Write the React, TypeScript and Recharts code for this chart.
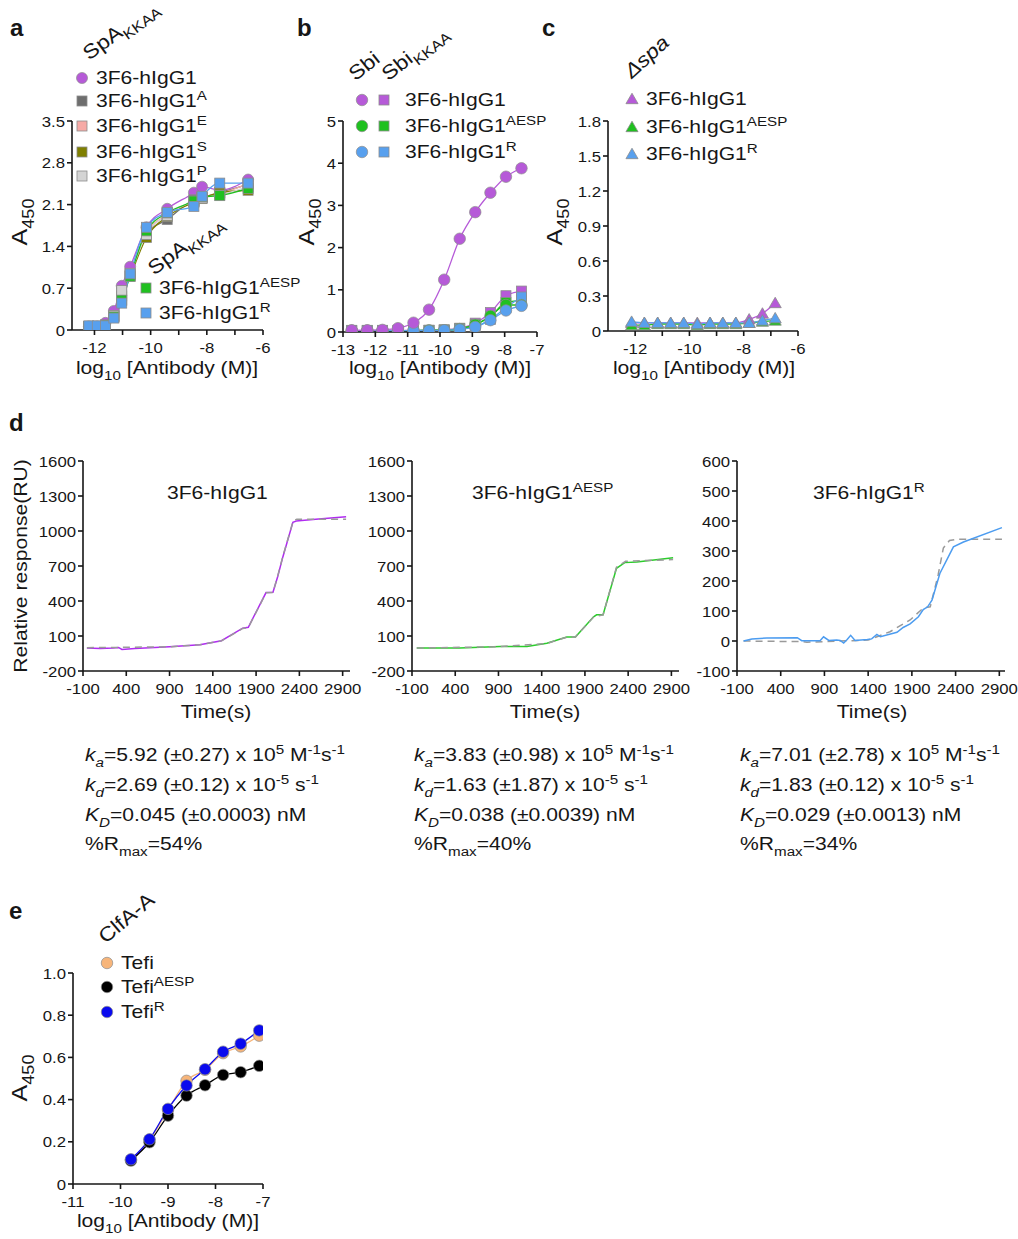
import React from 'react';
import { ComposedChart, Line, Scatter, XAxis, YAxis } from 'recharts';

const FONT = '"Liberation Sans", Arial, Helvetica, sans-serif';
const INK = '#161616';
const WIDE = 1.14; // the figure's lettering is wider than Arial
const TICK = 15.5;
const TICK_WIDE = 1.08;

const PURPLE = '#b65ad8';
const DKGREY = '#6e6e6e';
const PINK = '#f6aaa6';
const OLIVE = '#7f7f00';
const LTGREY = '#d4d4d4';
const GREEN = '#20c020';
const BLUE = '#58a0ee';
const ORANGE = '#f7b57a';
const BLACK = '#000000';
const DEEPBLUE = '#0a0aee';

// ---- a: SpA(KKAA) ELISA, log10 [Ab]
const aConc = [-12.2, -11.9, -11.61, -11.31, -11.03, -10.73, -10.15, -9.41, -8.46, -8.17, -7.54, -6.53];
const aIgG1 = [0.06, 0.06, 0.12, 0.32, 0.74, 1.06, 1.72, 2.03, 2.3, 2.4, 2.34, 2.52];
const aA = [0.06, 0.06, 0.08, 0.24, 0.62, 0.93, 1.62, 1.85, 2.18, 2.22, 2.3, 2.44];
const aE = [0.06, 0.06, 0.08, 0.22, 0.5, 0.92, 1.62, 1.93, 2.15, 2.22, 2.28, 2.45];
const aS = [0.06, 0.06, 0.08, 0.22, 0.57, 0.9, 1.55, 1.9, 2.14, 2.2, 2.3, 2.34];
const aP = [0.06, 0.06, 0.08, 0.24, 0.66, 0.95, 1.6, 1.92, 2.16, 2.21, 2.26, 2.4];
const aAESP = [0.06, 0.06, 0.08, 0.22, 0.5, 0.9, 1.66, 1.96, 2.16, 2.23, 2.25, 2.37];
const aR = [0.07, 0.07, 0.07, 0.2, 0.45, 0.94, 1.72, 1.97, 2.07, 2.24, 2.46, 2.46];

// ---- b: Sbi (circles) and Sbi(KKAA) (squares)
const bConc = [-12.73, -12.25, -11.78, -11.3, -10.82, -10.34, -9.87, -9.39, -8.91, -8.44, -7.96, -7.48];
const bSbiIgG1 = [0.04, 0.04, 0.05, 0.09, 0.22, 0.53, 1.24, 2.21, 2.84, 3.3, 3.68, 3.88];
const bSbiAESP = [0.03, 0.03, 0.03, 0.03, 0.03, 0.04, 0.04, 0.07, 0.17, 0.38, 0.64, 0.64];
const bSbiR = [0.03, 0.03, 0.03, 0.03, 0.03, 0.03, 0.04, 0.06, 0.12, 0.28, 0.51, 0.62];
const bKkaaIgG1 = [0.04, 0.04, 0.04, 0.04, 0.04, 0.04, 0.05, 0.09, 0.21, 0.46, 0.86, 0.97];
const bKkaaAESP = [0.03, 0.03, 0.03, 0.03, 0.03, 0.04, 0.05, 0.08, 0.18, 0.36, 0.7, 0.75];
const bKkaaR = [0.03, 0.03, 0.03, 0.03, 0.03, 0.04, 0.04, 0.07, 0.13, 0.3, 0.58, 0.83];

// ---- c: delta spa
const cConc = [-12.13, -11.66, -11.17, -10.69, -10.21, -9.71, -9.24, -8.77, -8.29, -7.8, -7.31, -6.84];
const cIgG1 = [0.07, 0.07, 0.07, 0.07, 0.07, 0.07, 0.07, 0.07, 0.07, 0.1, 0.15, 0.24];
const cAESP = [0.05, 0.05, 0.06, 0.06, 0.06, 0.05, 0.06, 0.06, 0.06, 0.07, 0.08, 0.09];
const cR = [0.08, 0.07, 0.07, 0.07, 0.07, 0.06, 0.07, 0.07, 0.07, 0.07, 0.09, 0.11];

// ---- d: SPR sensorgrams (time s, RU) and fits
const d1Time = [-55, 100, 250, 310, 350, 500, 900, 1250, 1500, 1745, 1810, 2015, 2095, 2150, 2210, 2325, 2365, 2590, 2940];
const d1Resp = [-3, -8, -2, 2, -15, -8, 8, 25, 60, 167, 175, 472, 475, 610, 780, 1075, 1085, 1100, 1122];
const d1FitTime = [-55, 300, 900, 1250, 1500, 1745, 1810, 2015, 2095, 2150, 2210, 2330, 2370, 2600, 2940];
const d1FitResp = [0, 2, 8, 25, 58, 165, 172, 470, 473, 615, 785, 1090, 1100, 1100, 1100];

const d2Time = [-45, 450, 920, 1230, 1460, 1690, 1790, 2000, 2035, 2110, 2265, 2360, 2500, 2920];
const d2Resp = [-3, -3, 11, 11, 38, 92, 91, 265, 282, 282, 680, 729, 734, 771];
const d2FitTime = [-45, 900, 1460, 1690, 1790, 2000, 2110, 2265, 2370, 2920];
const d2FitResp = [-3, 8, 36, 90, 92, 262, 282, 690, 740, 755];

const d3Time = [-25, 70, 240, 590, 640, 850, 890, 950, 1040, 1080, 1120, 1160, 1200, 1250, 1390, 1440, 1500, 1540, 1730, 1800, 1880, 1975, 2030, 2080, 2130, 2220, 2375, 2490, 2930];
const d3Resp = [0, 7, 10, 11, 1, 1, 14, 2, 3, 2, -7, 5, 19, 2, 5, 7, 22, 14, 29, 45, 57, 81, 105, 114, 136, 225, 314, 330, 378];
const d3FitTime = [-25, 630, 700, 1400, 1650, 1880, 2030, 2110, 2200, 2260, 2330, 2410, 2930];
const d3FitResp = [0, -2, -4, 3, 31, 70, 110, 114, 220, 310, 335, 339, 339];

const kaText = ['5.92 (±0.27)', '3.83 (±0.98)', '7.01 (±2.78)'];
const kdText = ['2.69 (±0.12)', '1.63 (±1.87)', '1.83 (±0.12)'];
const KDText = ['0.045 (±0.0003)', '0.038 (±0.0039)', '0.029 (±0.0013)'];
const rmaxText = ['54', '40', '34'];

// ---- e: ClfA-A
const eConc = [-9.78, -9.39, -9.0, -8.61, -8.22, -7.84, -7.47, -7.08];
const eTefi = [0.114, 0.209, 0.351, 0.489, 0.541, 0.62, 0.652, 0.703];
const eAESP = [0.111, 0.198, 0.324, 0.419, 0.468, 0.517, 0.53, 0.56];
const eR = [0.117, 0.212, 0.356, 0.467, 0.544, 0.627, 0.665, 0.728];

type Pt = { x: number; y: number };
const pts = (xs: number[], ys: number[]): Pt[] => xs.map((x, i) => ({ x, y: ys[i] }));

type Kind = 'circle' | 'square' | 'triangle';

function Mark({ kind, cx, cy, fill, size = 10, edge = '#8c8c8c' }: { kind: Kind; cx: number; cy: number; fill: string; size?: number; edge?: string }) {
  const h = size / 2;
  if (kind === 'circle') return <circle cx={cx} cy={cy} r={h} fill={fill} stroke={edge} strokeWidth={0.7} />;
  if (kind === 'square') return <rect x={cx - h} y={cy - h} width={size} height={size} fill={fill} stroke={edge} strokeWidth={0.8} />;
  return (
    <polygon
      points={`${cx},${cy - h * 1.05} ${cx - h * 1.1},${cy + h * 0.85} ${cx + h * 1.1},${cy + h * 0.85}`}
      fill={fill}
      stroke={edge}
      strokeWidth={0.8}
    />
  );
}

type Box = { l: number; t: number; r: number; b: number };
type Fmt = (v: number) => string;
const ML = 60, MT = 12, MR = 20, MB = 40;
const axisStyle = { stroke: INK, strokeWidth: 1.6 };

function Plot({ box, xDomain, xTicks, xFmt = String, yDomain, yTicks, yFmt = String, children }: {
  box: Box; xDomain: [number, number]; xTicks: number[]; xFmt?: Fmt;
  yDomain: [number, number]; yTicks: number[]; yFmt?: Fmt; children: React.ReactNode;
}) {
  const w = box.r - box.l + ML + MR;
  const h = box.b - box.t + MT + MB;
  return (
    <div style={{ position: 'absolute', left: box.l - ML, top: box.t - MT }}>
      <ComposedChart width={w} height={h} margin={{ top: MT, right: MR, bottom: 0, left: 0 }}>
        <XAxis
          type="number" dataKey="x" domain={xDomain} ticks={xTicks} interval={0} height={MB}
          allowDataOverflow axisLine={axisStyle} tickLine={axisStyle} tickSize={5}
          tick={(p: any) => (
            <text transform={`translate(${p.x},${p.y + 16}) scale(${TICK_WIDE},1)`} textAnchor="middle" fontSize={TICK} fontFamily={FONT} fill={INK}>
              {xFmt(p.payload.value)}
            </text>
          )}
        />
        <YAxis
          type="number" domain={yDomain} ticks={yTicks} interval={0} width={ML}
          allowDataOverflow axisLine={axisStyle} tickLine={axisStyle} tickSize={5}
          tick={(p: any) => (
            <text transform={`translate(${p.x},${p.y + 5.6}) scale(${TICK_WIDE},1)`} textAnchor="end" fontSize={TICK} fontFamily={FONT} fill={INK}>
              {yFmt(p.payload.value)}
            </text>
          )}
        />
        {children}
      </ComposedChart>
    </div>
  );
}

type Series = { key: string; xs: number[]; ys: number[]; color: string; kind: Kind; size?: number };

function curves(list: Series[], width = 1.3) {
  return list.map((s) => (
    <Line key={'l' + s.key} data={pts(s.xs, s.ys)} dataKey="y" type="monotone" stroke={s.color}
      strokeWidth={width} dot={false} activeDot={false} isAnimationActive={false} />
  ));
}

function marks(list: Series[]) {
  return list.map((s) => (
    <Scatter key={'m' + s.key} data={pts(s.xs, s.ys)} dataKey="y" isAnimationActive={false}
      shape={(p: any) => <Mark kind={s.kind} cx={p.cx} cy={p.cy} fill={s.color} size={s.size ?? 10} />} />
  ));
}

function T({ x, y, size = 18.5, anchor = 'start', rot = 0, wide = WIDE, bold = false, italic = false, children }: {
  x: number; y: number; size?: number; anchor?: 'start' | 'middle' | 'end'; rot?: number; wide?: number;
  bold?: boolean; italic?: boolean; children: React.ReactNode;
}) {
  const ox = anchor === 'middle' ? '50%' : anchor === 'end' ? '100%' : '0%';
  return (
    <div
      style={{
        position: 'absolute', left: x, top: y, whiteSpace: 'nowrap', fontFamily: FONT, fontSize: size,
        lineHeight: 1, color: INK, fontWeight: bold ? 700 : 400, fontStyle: italic ? 'italic' : 'normal',
        transformOrigin: `${ox} 50%`, transform: `translate(-${ox}, -50%) rotate(${rot}deg) scaleX(${wide})`,
      }}
    >
      {children}
    </div>
  );
}

const Sup = ({ children }: { children: React.ReactNode }) => (
  <span style={{ fontSize: '0.72em', position: 'relative', top: '-0.55em' }}>{children}</span>
);
const Sub = ({ children }: { children: React.ReactNode }) => (
  <span style={{ fontSize: '0.72em', position: 'relative', top: '0.42em' }}>{children}</span>
);
const I = ({ children }: { children: React.ReactNode }) => <i>{children}</i>;

function Glyph({ x, y, kind, fill, size = 10 }: { x: number; y: number; kind: Kind; fill: string; size?: number }) {
  return (
    <svg width={18} height={18} style={{ position: 'absolute', left: x - 9, top: y - 9 }}>
      <Mark kind={kind} cx={9} cy={9} fill={fill} size={size} />
    </svg>
  );
}

const oneDec: Fmt = (v) => (v === 0 ? '0' : v.toFixed(1));
const evenOnly: Fmt = (v) => (Math.round(v) % 2 === 0 ? String(v) : '');
const AbTitle = () => <>log<Sub>10</Sub> [Antibody (M)]</>;
const A450 = () => <>A<Sub>450</Sub></>;

const aSeries: Series[] = [
  { key: 'IgG1', xs: aConc, ys: aIgG1, color: PURPLE, kind: 'circle', size: 11 },
  { key: 'A', xs: aConc, ys: aA, color: DKGREY, kind: 'square' },
  { key: 'E', xs: aConc, ys: aE, color: PINK, kind: 'square' },
  { key: 'S', xs: aConc, ys: aS, color: OLIVE, kind: 'square' },
  { key: 'P', xs: aConc, ys: aP, color: LTGREY, kind: 'square' },
  { key: 'AESP', xs: aConc, ys: aAESP, color: GREEN, kind: 'square' },
  { key: 'R', xs: aConc, ys: aR, color: BLUE, kind: 'square' },
];

const bSeries: Series[] = [
  { key: 'kI', xs: bConc, ys: bKkaaIgG1, color: PURPLE, kind: 'square' },
  { key: 'kA', xs: bConc, ys: bKkaaAESP, color: GREEN, kind: 'square' },
  { key: 'kR', xs: bConc, ys: bKkaaR, color: BLUE, kind: 'square' },
  { key: 'sA', xs: bConc, ys: bSbiAESP, color: GREEN, kind: 'circle', size: 11.5 },
  { key: 'sR', xs: bConc, ys: bSbiR, color: BLUE, kind: 'circle', size: 11.5 },
  { key: 'sI', xs: bConc, ys: bSbiIgG1, color: PURPLE, kind: 'circle', size: 11.5 },
];

const cSeries: Series[] = [
  { key: 'I', xs: cConc, ys: cIgG1, color: PURPLE, kind: 'triangle', size: 11 },
  { key: 'A', xs: cConc, ys: cAESP, color: GREEN, kind: 'triangle', size: 11 },
  { key: 'R', xs: cConc, ys: cR, color: BLUE, kind: 'triangle', size: 11 },
];

const eSeries: Series[] = [
  { key: 'T', xs: eConc, ys: eTefi, color: ORANGE, kind: 'circle', size: 11.5 },
  { key: 'A', xs: eConc, ys: eAESP, color: BLACK, kind: 'circle', size: 11.5 },
  { key: 'R', xs: eConc, ys: eR, color: DEEPBLUE, kind: 'circle', size: 11.5 },
];

const timeTicks = [-100, 400, 900, 1400, 1900, 2400, 2900];

function trace(key: string, xs: number[], ys: number[], color: string, dashed = false) {
  return (
    <Line key={key} data={pts(xs, ys)} dataKey="y" type="linear" stroke={color} strokeWidth={1.5}
      strokeDasharray={dashed ? '7 5' : undefined} dot={false} activeDot={false} isAnimationActive={false} />
  );
}

export default function App() {
  const kinCols = [85, 414, 740];
  return (
    <div style={{ position: 'absolute', left: 0, top: 0, width: 1018, height: 1239, background: '#fff', fontFamily: FONT }}>
      {/* panel letters */}
      <T x={10} y={28} size={24} bold wide={1}>a</T>
      <T x={297} y={28} size={24} bold wide={1}>b</T>
      <T x={542} y={28} size={24} bold wide={1}>c</T>
      <T x={9} y={423} size={24} bold wide={1}>d</T>
      <T x={9} y={911} size={24} bold wide={1}>e</T>

      {/* ---------- a ---------- */}
      <Plot box={{ l: 72, t: 121, r: 263, b: 330 }} xDomain={[-12.8, -6]} xTicks={[-12, -11, -10, -9, -8, -7, -6]} xFmt={evenOnly}
        yDomain={[0, 3.5]} yTicks={[0, 0.7, 1.4, 2.1, 2.8, 3.5]} yFmt={oneDec}>
        {curves(aSeries)}
        {marks(aSeries)}
      </Plot>
      <T x={20} y={222} size={22} anchor="middle" rot={-90}><A450 /></T>
      <T x={167} y={368} size={18.5} anchor="middle"><AbTitle /></T>
      <T x={85} y={55} size={20} rot={-36}>SpA<Sub>KKAA</Sub></T>
      {[
        { y: 78, kind: 'circle' as Kind, fill: PURPLE, sup: '' },
        { y: 101, kind: 'square' as Kind, fill: DKGREY, sup: 'A' },
        { y: 126, kind: 'square' as Kind, fill: PINK, sup: 'E' },
        { y: 152, kind: 'square' as Kind, fill: OLIVE, sup: 'S' },
        { y: 176, kind: 'square' as Kind, fill: LTGREY, sup: 'P' },
      ].map((r) => (
        <React.Fragment key={r.y}>
          <Glyph x={82} y={r.y} kind={r.kind} fill={r.fill} size={r.kind === 'circle' ? 11 : 10} />
          <T x={96} y={r.y}>3F6-hIgG1{r.sup && <Sup>{r.sup}</Sup>}</T>
        </React.Fragment>
      ))}
      <T x={150} y={270} size={20} rot={-36}>SpA<Sub>KKAA</Sub></T>
      <Glyph x={146} y={288} kind="square" fill={GREEN} />
      <T x={159} y={288}>3F6-hIgG1<Sup>AESP</Sup></T>
      <Glyph x={146} y={313} kind="square" fill={BLUE} />
      <T x={159} y={313}>3F6-hIgG1<Sup>R</Sup></T>

      {/* ---------- b ---------- */}
      <Plot box={{ l: 343, t: 121, r: 537, b: 332 }} xDomain={[-13, -7]} xTicks={[-13, -12, -11, -10, -9, -8, -7]}
        yDomain={[0, 5]} yTicks={[0, 1, 2, 3, 4, 5]}>
        {curves(bSeries)}
        {marks(bSeries)}
      </Plot>
      <T x={307} y={222} size={22} anchor="middle" rot={-90}><A450 /></T>
      <T x={440} y={368} size={18.5} anchor="middle"><AbTitle /></T>
      <T x={351} y={76} size={20} rot={-38}>Sbi</T>
      <T x={384} y={76} size={20} rot={-38}>Sbi<Sub>KKAA</Sub></T>
      {[
        { y: 100, fill: PURPLE, sup: '' },
        { y: 126, fill: GREEN, sup: 'AESP' },
        { y: 152, fill: BLUE, sup: 'R' },
      ].map((r) => (
        <React.Fragment key={r.y}>
          <Glyph x={362} y={r.y} kind="circle" fill={r.fill} size={11.5} />
          <Glyph x={384} y={r.y} kind="square" fill={r.fill} />
          <T x={405} y={r.y}>3F6-hIgG1{r.sup && <Sup>{r.sup}</Sup>}</T>
        </React.Fragment>
      ))}

      {/* ---------- c ---------- */}
      <Plot box={{ l: 608, t: 121, r: 798, b: 331 }} xDomain={[-13, -6]} xTicks={[-12, -11, -10, -9, -8, -7, -6]} xFmt={evenOnly}
        yDomain={[0, 1.8]} yTicks={[0, 0.3, 0.6, 0.9, 1.2, 1.5, 1.8]} yFmt={oneDec}>
        {curves(cSeries)}
        {marks(cSeries)}
      </Plot>
      <T x={555} y={222} size={22} anchor="middle" rot={-90}><A450 /></T>
      <T x={704} y={368} size={18.5} anchor="middle"><AbTitle /></T>
      <T x={627} y={74} size={20} rot={-42} italic>Δspa</T>
      {[
        { y: 99, fill: PURPLE, sup: '' },
        { y: 127, fill: GREEN, sup: 'AESP' },
        { y: 154, fill: BLUE, sup: 'R' },
      ].map((r) => (
        <React.Fragment key={r.y}>
          <Glyph x={632} y={r.y} kind="triangle" fill={r.fill} size={11} />
          <T x={646} y={r.y}>3F6-hIgG1{r.sup && <Sup>{r.sup}</Sup>}</T>
        </React.Fragment>
      ))}

      {/* ---------- d ---------- */}
      <Plot box={{ l: 83, t: 461, r: 350, b: 671 }} xDomain={[-100, 2985]} xTicks={timeTicks}
        yDomain={[-200, 1600]} yTicks={[-200, 100, 400, 700, 1000, 1300, 1600]}>
        {trace('d1', d1Time, d1Resp, '#b02cf0')}
        {trace('d1f', d1FitTime, d1FitResp, '#9a9a9a', true)}
      </Plot>
      <Plot box={{ l: 412, t: 461, r: 679, b: 671 }} xDomain={[-100, 2988]} xTicks={timeTicks}
        yDomain={[-200, 1600]} yTicks={[-200, 100, 400, 700, 1000, 1300, 1600]}>
        {trace('d2', d2Time, d2Resp, '#2ccc2c')}
        {trace('d2f', d2FitTime, d2FitResp, '#9a9a9a', true)}
      </Plot>
      <Plot box={{ l: 737, t: 461, r: 1005, b: 671 }} xDomain={[-100, 2965]} xTicks={timeTicks}
        yDomain={[-100, 600]} yTicks={[-100, 0, 100, 200, 300, 400, 500, 600]}>
        {trace('d3f', d3FitTime, d3FitResp, '#9a9a9a', true)}
        {trace('d3', d3Time, d3Resp, '#4c9cf0')}
      </Plot>
      <T x={21} y={566} size={18.5} anchor="middle" rot={-90}>Relative response(RU)</T>
      <T x={167} y={493}>3F6-hIgG1</T>
      <T x={472} y={493}>3F6-hIgG1<Sup>AESP</Sup></T>
      <T x={813} y={493}>3F6-hIgG1<Sup>R</Sup></T>
      <T x={216} y={712} anchor="middle">Time(s)</T>
      <T x={545} y={712} anchor="middle">Time(s)</T>
      <T x={872} y={712} anchor="middle">Time(s)</T>
      {kinCols.map((x, i) => (
        <React.Fragment key={x}>
          <T x={x} y={755}><I>k</I><Sub><I>a</I></Sub>={kaText[i]} x 10<Sup>5</Sup> M<Sup>-1</Sup>s<Sup>-1</Sup></T>
          <T x={x} y={785}><I>k</I><Sub><I>d</I></Sub>={kdText[i]} x 10<Sup>-5</Sup> s<Sup>-1</Sup></T>
          <T x={x} y={815}><I>K</I><Sub><I>D</I></Sub>={KDText[i]} nM</T>
          <T x={x} y={844}>%R<Sub>max</Sub>={rmaxText[i]}%</T>
        </React.Fragment>
      ))}

      {/* ---------- e ---------- */}
      <Plot box={{ l: 73, t: 973, r: 263, b: 1184 }} xDomain={[-11, -7]} xTicks={[-11, -10, -9, -8, -7]}
        yDomain={[0, 1]} yTicks={[0, 0.2, 0.4, 0.6, 0.8, 1]} yFmt={oneDec}>
        {curves(eSeries)}
        {marks(eSeries)}
      </Plot>
      <T x={20} y={1078} size={22} anchor="middle" rot={-90}><A450 /></T>
      <T x={168} y={1221} size={18.5} anchor="middle"><AbTitle /></T>
      <T x={101} y={939} size={20} rot={-40}>ClfA-A</T>
      {[
        { y: 963, fill: ORANGE, sup: '' },
        { y: 987, fill: BLACK, sup: 'AESP' },
        { y: 1012, fill: DEEPBLUE, sup: 'R' },
      ].map((r) => (
        <React.Fragment key={r.y}>
          <Glyph x={107} y={r.y} kind="circle" fill={r.fill} size={11.5} />
          <T x={121} y={r.y}>Tefi{r.sup && <Sup>{r.sup}</Sup>}</T>
        </React.Fragment>
      ))}
    </div>
  );
}
